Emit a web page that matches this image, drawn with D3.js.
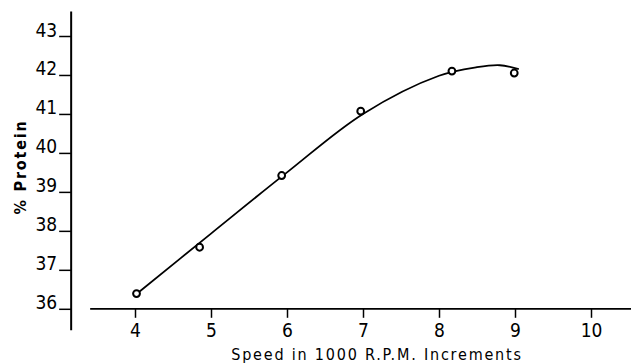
<!DOCTYPE html>
<html>
<head>
<meta charset="utf-8">
<script src="https://cdn.jsdelivr.net/npm/d3@7"></script>
<style>
  body { margin: 0; background: #fff; }
  text { fill: #000; }
</style>
</head>
<body>
<div id="chart"></div>
<script>
// measured points (speed in 1000 rpm, % protein)
var speeds = [4.02, 4.85, 5.93, 6.97, 8.17, 8.99]
var protein = [36.39, 37.58, 39.42, 41.07, 42.1, 42.05]

// hand-drawn smooth curve through the points
var curveSpeeds = [4.02, 5, 6, 7, 8, 8.5, 8.8, 9.05]
var curveProtein = [36.38, 37.93, 39.5, 41.0, 41.98, 42.2, 42.25, 42.15]

var xTicks = [4, 5, 6, 7, 8, 9, 10]
var yTicks = [36, 37, 38, 39, 40, 41, 42, 43]

var width = 631
var height = 364
var font = '"DejaVu Sans Condensed", "DejaVu Sans", sans-serif'

var svg = d3
  .select('#chart')
  .append('svg')
  .attr('width', width)
  .attr('height', height)

var x = d3.scaleLinear().domain([4, 10]).range([135, 591])
var y = d3.scaleLinear().domain([36, 43]).range([308.8, 36])

// y axis: ticks to the left, numbers sitting on the tick
var yAxis = svg
  .append('g')
  .attr('transform', 'translate(' + x(3.16) + ',0)')
  .call(
    d3.axisLeft(y)
      .tickValues(yTicks)
      .tickSize(12)
      .tickPadding(2)
      .tickFormat(d3.format('d'))
  )
yAxis.select('.domain').remove()
yAxis
  .selectAll('text')
  .attr('dy', 0)
  .attr('font-family', font)
  .attr('font-size', 19)
yAxis.selectAll('line').attr('stroke', '#000').attr('stroke-width', 1.5)

svg
  .append('line')
  .attr('x1', x(3.16))
  .attr('x2', x(3.16))
  .attr('y1', y(43.63))
  .attr('y2', y(35.45))
  .attr('stroke', '#000')
  .attr('stroke-width', 2)

// x axis
var xAxis = svg
  .append('g')
  .attr('transform', 'translate(0,' + y(36) + ')')
  .call(
    d3.axisBottom(x)
      .tickValues(xTicks)
      .tickSize(9)
      .tickPadding(6)
      .tickFormat(d3.format('d'))
  )
xAxis.select('.domain').remove()
xAxis
  .selectAll('text')
  .attr('font-family', font)
  .attr('font-size', 19)
xAxis.selectAll('line').attr('stroke', '#000').attr('stroke-width', 1.5)

svg
  .append('line')
  .attr('x1', x(3.41))
  .attr('x2', x(10.55))
  .attr('y1', y(36))
  .attr('y2', y(36))
  .attr('stroke', '#000')
  .attr('stroke-width', 1.8)

// axis titles
svg
  .append('text')
  .attr('x', 377)
  .attr('y', 360)
  .attr('text-anchor', 'middle')
  .attr('font-family', font)
  .attr('font-size', 16)
  .attr('letter-spacing', 1.8)
  .text('Speed in 1000 R.P.M. Increments')

svg
  .append('text')
  .attr('transform', 'translate(26,167) rotate(-90)')
  .attr('text-anchor', 'middle')
  .attr('font-family', font)
  .attr('font-size', 16)
  .attr('font-weight', 'bold')
  .attr('letter-spacing', 1.8)
  .text('% Protein')

// curve
var line = d3
  .line()
  .x(function(d) { return x(d[0]) })
  .y(function(d) { return y(d[1]) })
  .curve(d3.curveCatmullRom)

svg
  .append('path')
  .datum(d3.zip(curveSpeeds, curveProtein))
  .attr('d', line)
  .attr('fill', 'none')
  .attr('stroke', '#000')
  .attr('stroke-width', 1.8)

// points
svg
  .selectAll('.pt')
  .data(d3.zip(speeds, protein))
  .enter()
  .append('circle')
  .attr('class', 'pt')
  .attr('cx', function(d) { return x(d[0]) })
  .attr('cy', function(d) { return y(d[1]) })
  .attr('r', 3.4)
  .attr('fill', '#fff')
  .attr('stroke', '#000')
  .attr('stroke-width', 2)
</script>
</body>
</html>
